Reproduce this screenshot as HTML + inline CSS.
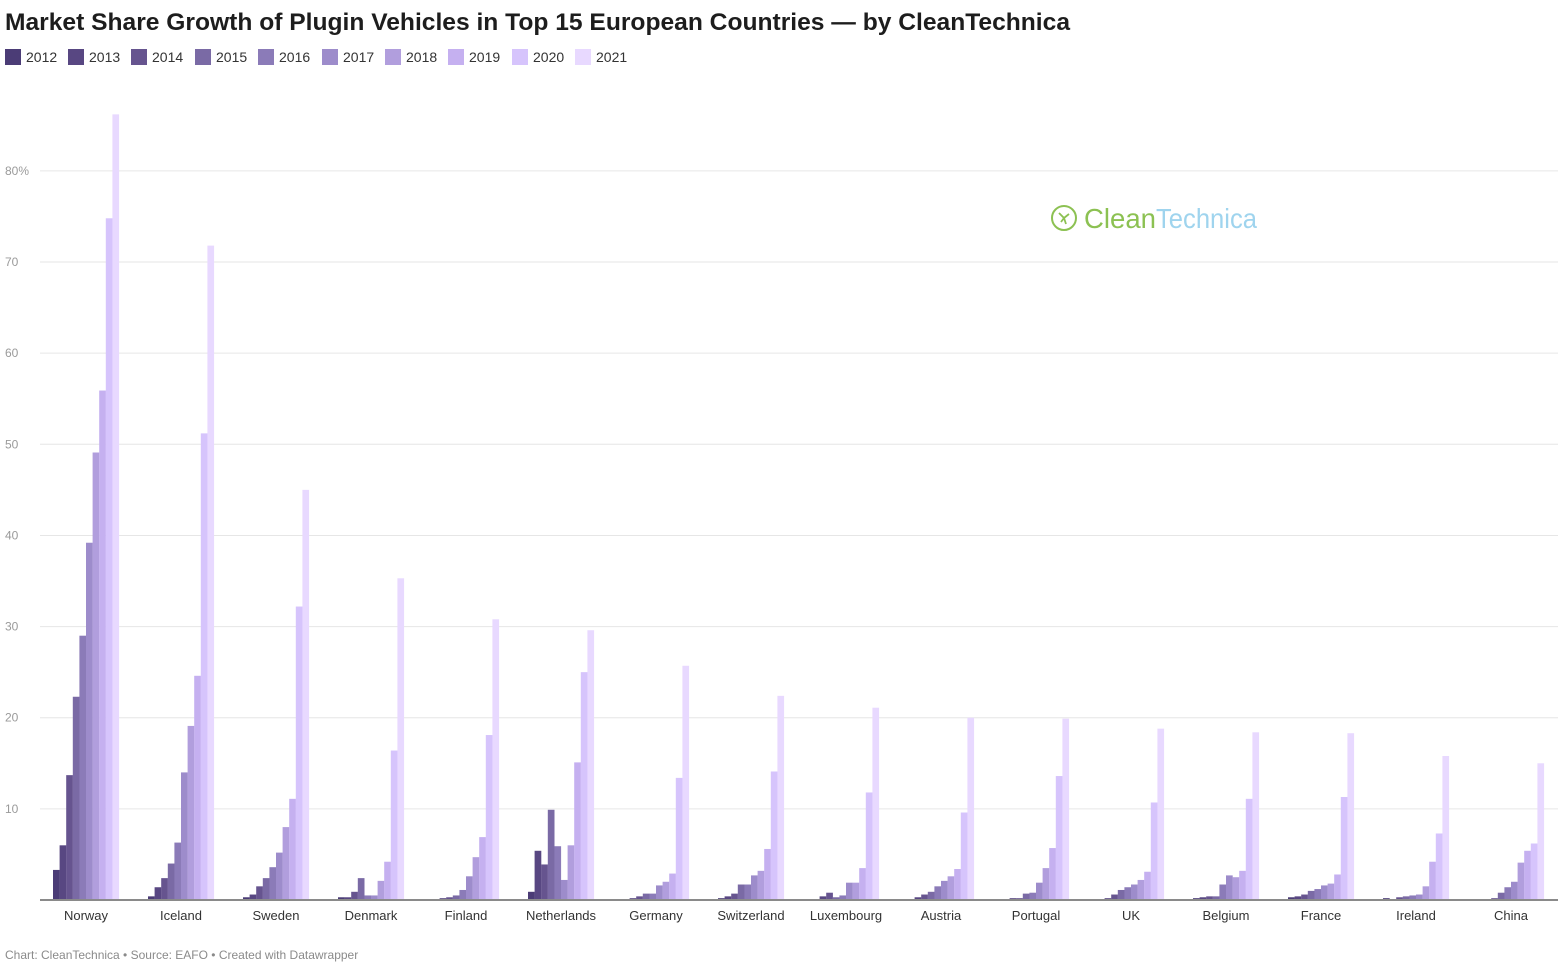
<!DOCTYPE html>
<html><head><meta charset="utf-8"><style>
html,body{margin:0;padding:0;background:#fff;}
svg{display:block;font-family:"Liberation Sans",sans-serif;}
</style></head><body>
<svg id="s" width="1568" height="969" xmlns="http://www.w3.org/2000/svg">
<text x="5" y="30" font-size="24" font-weight="bold" fill="#1d1d1d" textLength="1065" lengthAdjust="spacingAndGlyphs">Market Share Growth of Plugin Vehicles in Top 15 European Countries — by CleanTechnica</text>
<g id="legend"></g>
<g id="grid"></g>
<g id="bars"></g>
<line x1="40" y1="900" x2="1558" y2="900" stroke="#8a8a8a" stroke-width="2"/>
<g transform="translate(1050,203)">
<circle cx="14" cy="15" r="12" fill="none" stroke="#8cc152" stroke-width="2"/>
<path d="M9 10 l5 5 l-3 4 M14 15 l5 -4 M14 15 l2 6" stroke="#8cc152" stroke-width="1.8" fill="none"/>
<text x="34" y="25" font-size="28" fill="#8cc152" font-weight="normal" textLength="72" lengthAdjust="spacingAndGlyphs">Clean</text>
<text x="106" y="25" font-size="28" fill="#9fd4ee" textLength="101" lengthAdjust="spacingAndGlyphs">Technica</text>
</g>
<text x="5" y="959" font-size="12" fill="#8a8a8a">Chart: CleanTechnica • Source: EAFO • Created with Datawrapper</text>
</svg>
<script>
var s=document.getElementById('s'),NS='http://www.w3.org/2000/svg';
function el(p,t,a,txt){var e=document.createElementNS(NS,t);for(var k in a)e.setAttribute(k,a[k]);if(txt)e.textContent=txt;document.getElementById(p).appendChild(e);}
var cols=['#4b3c76','#584782','#66548f','#7a6aa5','#8b7bb8','#9d8ccb','#b19edd','#c5b0f0','#d6c4fc','#e8d9ff'];
var lx=[5,68,131,195,258,322,385,448,512,575];
for(var i=0;i<10;i++){el('legend','rect',{x:lx[i],y:49,width:16,height:16,fill:cols[i]});el('legend','text',{x:lx[i]+21,y:62,'font-size':14,fill:'#333'},String(2012+i));}
var sc=9.114,base=900;
for(var v=10;v<=80;v+=10){var y=base-v*sc;el('grid','line',{x1:40,x2:1558,y1:y,y2:y,stroke:'#e6e6e6','stroke-width':1});el('grid','text',{x:5,y:y+4,'font-size':12,fill:'#9a9a9a'},v==80?'80%':String(v));}
var d=[['Norway',[3.3,6,13.7,22.3,29,39.2,49.1,55.9,74.8,86.2]],
['Iceland',[0.4,1.4,2.4,4,6.3,14,19.1,24.6,51.2,71.8]],
['Sweden',[0.3,0.6,1.5,2.4,3.6,5.2,8,11.1,32.2,45]],
['Denmark',[0.3,0.3,0.9,2.4,0.5,0.5,2.1,4.2,16.4,35.3]],
['Finland',[0.1,0.2,0.3,0.5,1.1,2.6,4.7,6.9,18.1,30.8]],
['Netherlands',[0.9,5.4,3.9,9.9,5.9,2.2,6,15.1,25,29.6]],
['Germany',[0.1,0.2,0.4,0.7,0.7,1.6,2,2.9,13.4,25.7]],
['Switzerland',[0.2,0.4,0.7,1.7,1.7,2.7,3.2,5.6,14.1,22.4]],
['Luxembourg',[0.1,0.4,0.8,0.3,0.5,1.9,1.9,3.5,11.8,21.1]],
['Austria',[0.1,0.3,0.6,0.9,1.5,2.1,2.6,3.4,9.6,20]],
['Portugal',[0.1,0.2,0.2,0.7,0.8,1.9,3.5,5.7,13.6,19.9]],
['UK',[0.1,0.2,0.6,1.1,1.4,1.7,2.2,3.1,10.7,18.8]],
['Belgium',[0.2,0.3,0.4,0.4,1.7,2.7,2.5,3.2,11.1,18.4]],
['France',[0.3,0.4,0.6,1,1.2,1.6,1.8,2.8,11.3,18.3]],
['Ireland',[0.2,0.1,0.3,0.4,0.5,0.6,1.5,4.2,7.3,15.8]],
['China',[0.05,0.05,0.2,0.8,1.4,2,4.1,5.4,6.2,15]]];
for(var g=0;g<d.length;g++){var c=86+95*g;
 for(var i=0;i<10;i++){var h=d[g][1][i]*sc;el('bars','rect',{x:c-33+i*6.6,y:base-h,width:6.7,height:h,fill:cols[i]});}
 el('bars','text',{x:c,y:920,'font-size':13,fill:'#333','text-anchor':'middle'},d[g][0]);}
</script>
</body></html>
